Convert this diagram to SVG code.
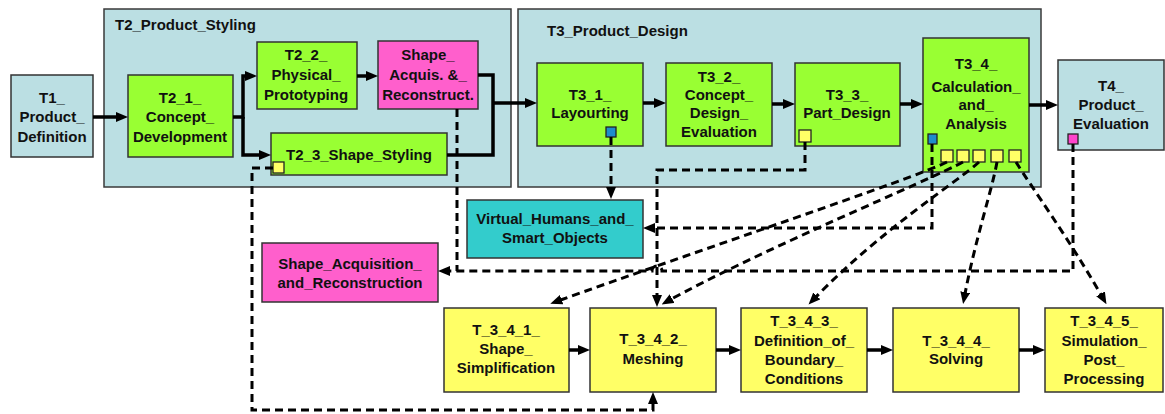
<svg xmlns="http://www.w3.org/2000/svg" width="1165" height="414" viewBox="0 0 1165 414">
<defs>
<marker id="ah" markerUnits="userSpaceOnUse" markerWidth="12" markerHeight="10" refX="7" refY="5" orient="auto">
<path d="M0,0 L12,5 L0,10 z" fill="#000"/>
</marker>
<style>
.cont{fill:#bbdfe3;stroke:#3a3a3a;stroke-width:1.5}
.g{fill:#99ff33;stroke:#333;stroke-width:1.5}
.y{fill:#ffff66;stroke:#333;stroke-width:1.5}
.m{fill:#ff5fcc;stroke:#333;stroke-width:1.5}
.c{fill:#33cccc;stroke:#333;stroke-width:1.5}
.lb{fill:#bbdfe3;stroke:#333;stroke-width:1.5}
.sq{stroke:#222;stroke-width:1.3}
text{font-family:"Liberation Sans",Arial,sans-serif;font-weight:bold;font-size:15px;fill:#111;text-anchor:middle}
.lt{text-anchor:start}
.s{fill:none;stroke:#000;stroke-width:3.5}
.d{fill:none;stroke:#000;stroke-width:3;stroke-dasharray:8,5}
</style>
</defs>
<rect width="1165" height="414" fill="#fff"/>

<g id="T2_Product_Styling">
<rect class="cont" x="104" y="9" width="407" height="178"/>
<text class="lt" x="115" y="30">T2_Product_Styling</text>
</g>
<g id="T3_Product_Design">
<rect class="cont" x="518" y="9" width="523" height="178"/>
<text class="lt" x="547" y="36">T3_Product_Design</text>
</g>

<g id="T1">
<rect class="lb" x="11" y="75" width="82" height="82"/>
<text x="52" y="103">T1_</text><text x="52" y="122">Product_</text><text x="52" y="142">Definition</text>
</g>
<g id="T2_1">
<rect class="g" x="128" y="75" width="105" height="82"/>
<text x="180" y="103">T2_1_</text><text x="180" y="122">Concept_</text><text x="180" y="142">Development</text>
</g>
<g id="T2_2">
<rect class="g" x="257" y="42" width="100" height="67"/>
<text x="306" y="60">T2_2_</text><text x="306" y="80">Physical_</text><text x="306" y="100">Prototyping</text>
</g>
<g id="Shape_Acquis">
<rect class="m" x="378" y="41" width="100" height="68"/>
<text x="428" y="60">Shape_</text><text x="428" y="80">Acquis. &amp;_</text><text x="428" y="100">Reconstruct.</text>
</g>
<g id="T2_3">
<rect class="g" x="271" y="133" width="176" height="42"/>
<text x="359" y="160">T2_3_Shape_Styling</text>
<rect class="sq" x="273" y="162" width="11" height="11" fill="#ffff66"/>
</g>
<g id="T3_1">
<rect class="g" x="537" y="63" width="106" height="83"/>
<text x="590" y="100">T3_1_</text><text x="590" y="118">Layourting</text>
<rect class="sq" x="606" y="127" width="10" height="10" fill="#1e8ccc"/>
</g>
<g id="T3_2">
<rect class="g" x="666" y="63" width="106" height="83"/>
<text x="719" y="82">T3_2_</text><text x="719" y="100">Concept_</text><text x="719" y="118">Design_</text><text x="719" y="137">Evaluation</text>
</g>
<g id="T3_3">
<rect class="g" x="795" y="63" width="105" height="83"/>
<text x="847" y="100">T3_3_</text><text x="847" y="118">Part_Design</text>
<rect class="sq" x="799" y="130" width="12" height="12" fill="#ffff66"/>
</g>
<g id="T3_4">
<rect class="g" x="923" y="38" width="106" height="134"/>
<text x="976" y="69">T3_4_</text><text x="976" y="92">Calculation_</text><text x="976" y="110">and_</text><text x="976" y="129">Analysis</text>
<rect class="sq" x="928" y="134" width="9" height="10" fill="#1e8ccc"/>
<rect class="sq" x="941" y="150" width="12" height="12" fill="#ffff66"/>
<rect class="sq" x="957" y="150" width="12" height="12" fill="#ffff66"/>
<rect class="sq" x="973" y="150" width="12" height="12" fill="#ffff66"/>
<rect class="sq" x="991" y="150" width="12" height="12" fill="#ffff66"/>
<rect class="sq" x="1009" y="150" width="12" height="12" fill="#ffff66"/>
</g>
<g id="T4">
<rect class="lb" x="1058" y="60" width="106" height="90"/>
<text x="1111" y="91">T4_</text><text x="1111" y="110">Product_</text><text x="1111" y="129">Evaluation</text>
<rect class="sq" x="1068" y="134" width="10" height="10" fill="#ff44cc"/>
</g>
<g id="Virtual_Humans">
<rect class="c" x="467" y="200" width="176" height="58"/>
<text x="555" y="224">Virtual_Humans_and_</text><text x="555" y="243">Smart_Objects</text>
</g>
<g id="Shape_Acquisition_and_Reconstruction">
<rect class="m" x="262" y="243" width="176" height="59"/>
<text x="350" y="269">Shape_Acquisition_</text><text x="350" y="288">and_Reconstruction</text>
</g>
<g id="T_3_4_1">
<rect class="y" x="444" y="308" width="125" height="84"/>
<text x="506" y="335">T_3_4_1_</text><text x="506" y="354">Shape_</text><text x="506" y="373">Simplification</text>
</g>
<g id="T_3_4_2">
<rect class="y" x="590" y="308" width="126" height="84"/>
<text x="653" y="344">T_3_4_2_</text><text x="653" y="364">Meshing</text>
</g>
<g id="T_3_4_3">
<rect class="y" x="741" y="308" width="126" height="84"/>
<text x="804" y="326">T_3_4_3_</text><text x="804" y="346">Definition_of_</text><text x="804" y="365">Boundary_</text><text x="804" y="384">Conditions</text>
</g>
<g id="T_3_4_4">
<rect class="y" x="893" y="308" width="126" height="84"/>
<text x="956" y="346">T_3_4_4_</text><text x="956" y="364">Solving</text>
</g>
<g id="T_3_4_5">
<rect class="y" x="1045" y="308" width="118" height="84"/>
<text x="1104" y="326">T_3_4_5_</text><text x="1104" y="346">Simulation_</text><text x="1104" y="365">Post_</text><text x="1104" y="384">Processing</text>
</g>

<g id="connectors">
<path class="s" d="M93,117 H123" marker-end="url(#ah)"/>
<path class="s" d="M233,117 H243 V76 H252" marker-end="url(#ah)"/>
<path class="s" d="M243,117 V155 H266" marker-end="url(#ah)"/>
<path class="s" d="M357,76 H373" marker-end="url(#ah)"/>
<path class="s" d="M478,75 H493 V155 H447"/>
<path class="s" d="M493,103 H532" marker-end="url(#ah)"/>
<path class="s" d="M643,103 H661" marker-end="url(#ah)"/>
<path class="s" d="M772,104 H790" marker-end="url(#ah)"/>
<path class="s" d="M900,104 H918" marker-end="url(#ah)"/>
<path class="s" d="M1029,105 H1053" marker-end="url(#ah)"/>
<path class="s" d="M569,350 H585" marker-end="url(#ah)"/>
<path class="s" d="M716,350 H736" marker-end="url(#ah)"/>
<path class="s" d="M867,350 H888" marker-end="url(#ah)"/>
<path class="s" d="M1019,350 H1040" marker-end="url(#ah)"/>

<path class="d" d="M273,168 H252 V410 H653 V397" marker-end="url(#ah)"/>
<path class="d" d="M457,109 V271"/>
<path class="d" d="M1073,144 V271 H662 A5,5 0 0 0 652,271 H443" marker-end="url(#ah)"/>
<path class="d" d="M611,137 V194" marker-end="url(#ah)"/>
<path class="d" d="M932,144 V228 H648" marker-end="url(#ah)"/>
<path class="d" d="M805,142 V170 H657 V302" marker-end="url(#ah)"/>
<path class="d" d="M947,162 C915,178 700,250 555,302" marker-end="url(#ah)"/>
<path class="d" d="M963,162 C930,180 760,250 666,302" marker-end="url(#ah)"/>
<path class="d" d="M979,162 C960,180 880,230 812,301" marker-end="url(#ah)"/>
<path class="d" d="M997,162 C992,190 975,240 964,299" marker-end="url(#ah)"/>
<path class="d" d="M1016,162 C1030,185 1070,240 1104,300" marker-end="url(#ah)"/>
</g>
</svg>
